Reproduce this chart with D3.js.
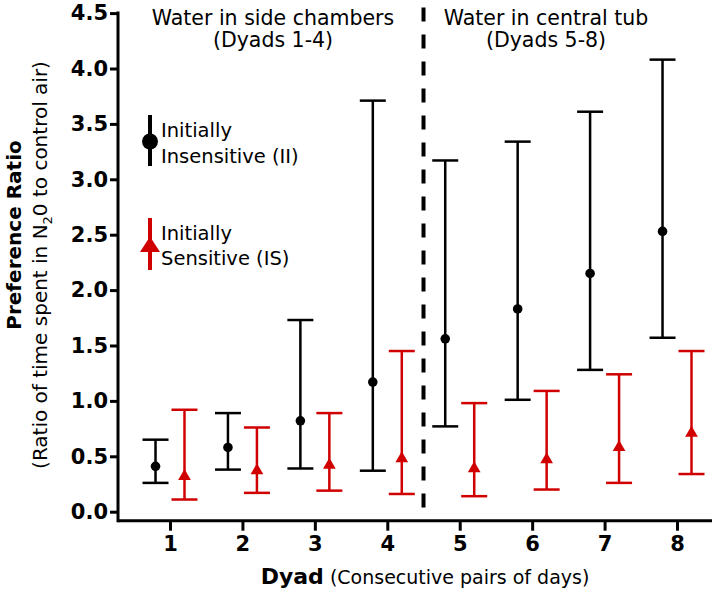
<!DOCTYPE html>
<html>
<head>
<meta charset="utf-8">
<script src="https://cdn.jsdelivr.net/npm/d3@7"></script>
<style>
  body { margin: 0; background: #fff; }
  svg { display: block; font-family: "DejaVu Sans", sans-serif; }
</style>
</head>
<body>
<div id="canvas"></div>
<script>
var w = 714;
var h = 592;

var dyads = [1, 2, 3, 4, 5, 6, 7, 8];
var yTicks = [0, 0.5, 1, 1.5, 2, 2.5, 3, 3.5, 4, 4.5];

// Initially Insensitive (II)
var iiMean = [0.41, 0.58, 0.82, 1.17, 1.56, 1.83, 2.15, 2.53];
var iiLow  = [0.26, 0.38, 0.39, 0.37, 0.77, 1.01, 1.28, 1.57];
var iiHigh = [0.65, 0.89, 1.73, 3.71, 3.17, 3.34, 3.61, 4.08];

// Initially Sensitive (IS)
var isMean = [0.32, 0.37, 0.42, 0.48, 0.39, 0.47, 0.58, 0.71];
var isLow  = [0.11, 0.17, 0.19, 0.16, 0.14, 0.20, 0.26, 0.34];
var isHigh = [0.92, 0.76, 0.89, 1.45, 0.98, 1.09, 1.24, 1.45];

var red = "#d00000";

var canvas = d3.select("#canvas")
    .append("svg")
    .attr("width", w)
    .attr("height", h);

var xScale = d3.scaleLinear()
    .domain([0.282, 8.483])
    .range([118, 712]);

var yScale = d3.scaleLinear()
    .domain([0, 4.5])
    .range([511.7, 13.1]);

var axisY = yScale(0) + 9;

// axes
var yAxis = d3.axisLeft(yScale)
    .tickValues(yTicks)
    .tickFormat(d3.format(".1f"))
    .tickSize(8)
    .tickPadding(2)
    .tickSizeOuter(0);

var gy = canvas.append("g")
    .attr("transform", "translate(118, 0)")
    .call(yAxis);
gy.select(".domain").remove();
gy.selectAll("line").attr("stroke", "#000").attr("stroke-width", 3);
gy.selectAll("text")
    .attr("fill", "#000")
    .style("font-size", "21px")
    .style("font-weight", "bold")
    .style("font-family", "DejaVu Sans");

var xAxis = d3.axisBottom(xScale)
    .tickValues(dyads)
    .tickFormat(d3.format("d"))
    .tickSize(10)
    .tickPadding(5)
    .tickSizeOuter(0);

var gx = canvas.append("g")
    .attr("transform", "translate(0, " + axisY + ")")
    .call(xAxis);
gx.select(".domain").remove();
gx.selectAll("line").attr("stroke", "#000").attr("stroke-width", 3);
gx.selectAll("text")
    .attr("fill", "#000")
    .style("font-size", "21px")
    .style("font-weight", "bold")
    .style("font-family", "DejaVu Sans");

canvas.append("line")
    .attr("x1", 118).attr("x2", 118)
    .attr("y1", yScale(4.5) - 1.5).attr("y2", axisY + 1.5)
    .attr("stroke", "#000").attr("stroke-width", 3);

canvas.append("line")
    .attr("x1", 118).attr("x2", 712)
    .attr("y1", axisY).attr("y2", axisY)
    .attr("stroke", "#000").attr("stroke-width", 3);

// divider between the two set-ups
canvas.append("line")
    .attr("x1", xScale(4.5)).attr("x2", xScale(4.5))
    .attr("y1", yScale(4.55)).attr("y2", yScale(0))
    .attr("stroke", "#000")
    .attr("stroke-width", 4)
    .attr("stroke-dasharray", "14,13");

// error bars
function drawSeries(mean, low, high, offset, color) {
    var data = dyads.map(function(d, i) {
        return { x: d + offset, m: mean[i], lo: low[i], hi: high[i] };
    });
    var g = canvas.append("g");
    var bars = g.selectAll("g")
        .data(data)
        .join("g");
    bars.append("line")
        .attr("x1", d => xScale(d.x)).attr("x2", d => xScale(d.x))
        .attr("y1", d => yScale(d.lo)).attr("y2", d => yScale(d.hi))
        .attr("stroke", color).attr("stroke-width", 2.5);
    bars.append("line")
        .attr("x1", d => xScale(d.x) - 13).attr("x2", d => xScale(d.x) + 13)
        .attr("y1", d => yScale(d.hi)).attr("y2", d => yScale(d.hi))
        .attr("stroke", color).attr("stroke-width", 2.5);
    bars.append("line")
        .attr("x1", d => xScale(d.x) - 13).attr("x2", d => xScale(d.x) + 13)
        .attr("y1", d => yScale(d.lo)).attr("y2", d => yScale(d.lo))
        .attr("stroke", color).attr("stroke-width", 2.5);
    return bars;
}

var iiBars = drawSeries(iiMean, iiLow, iiHigh, -0.2, "#000");
iiBars.append("circle")
    .attr("cx", d => xScale(d.x))
    .attr("cy", d => yScale(d.m))
    .attr("r", 4.8)
    .attr("fill", "#000");

var isBars = drawSeries(isMean, isLow, isHigh, 0.2, red);
isBars.append("path")
    .attr("d", d3.symbol().type(d3.symbolTriangle).size(70))
    .attr("transform", d => "translate(" + xScale(d.x) + "," + yScale(d.m) + ")")
    .attr("fill", red);

// legend
var legend = canvas.append("g");
legend.append("line")
    .attr("x1", 150).attr("x2", 150).attr("y1", 115).attr("y2", 166)
    .attr("stroke", "#000").attr("stroke-width", 4);
legend.append("circle")
    .attr("cx", 150).attr("cy", 141.5).attr("r", 8)
    .attr("fill", "#000");
legend.append("line")
    .attr("x1", 150).attr("x2", 150).attr("y1", 218).attr("y2", 270)
    .attr("stroke", red).attr("stroke-width", 4);
legend.append("path")
    .attr("d", "M150,236.5L160,252L140,252Z")
    .attr("fill", red);

var legendText = [
    { t: "Initially", y: 137 },
    { t: "Insensitive (II)", y: 163 },
    { t: "Initially", y: 239.5 },
    { t: "Sensitive (IS)", y: 265 }
];
legend.selectAll("text")
    .data(legendText)
    .join("text")
    .attr("x", 161)
    .attr("y", d => d.y)
    .attr("fill", "#000")
    .style("font-size", "19.5px")
    .text(d => d.t);

// panel headings
var headings = [
    { t: "Water in side chambers", x: 273, y: 25 },
    { t: "(Dyads 1-4)", x: 273, y: 47 },
    { t: "Water in central tub", x: 546, y: 25 },
    { t: "(Dyads 5-8)", x: 546, y: 47 }
];
canvas.selectAll(".heading")
    .data(headings)
    .join("text")
    .attr("class", "heading")
    .attr("x", d => d.x)
    .attr("y", d => d.y)
    .attr("text-anchor", "middle")
    .attr("fill", "#000")
    .style("font-size", "20.5px")
    .text(d => d.t);

// axis titles
canvas.append("text")
    .attr("transform", "translate(20.5, 235) rotate(-90)")
    .attr("text-anchor", "middle")
    .attr("fill", "#000")
    .style("font-size", "20px")
    .style("font-weight", "bold")
    .text("Preference Ratio");

var sub = canvas.append("text")
    .attr("transform", "translate(46.5, 265) rotate(-90)")
    .attr("text-anchor", "middle")
    .attr("fill", "#000")
    .style("font-size", "20px");
sub.append("tspan").text("(Ratio of time spent in N");
sub.append("tspan").attr("dy", 5).style("font-size", "13px").text("2");
sub.append("tspan").attr("dy", -5).text("0 to control air)");

var xt = canvas.append("text")
    .attr("x", 425)
    .attr("y", 584)
    .attr("text-anchor", "middle")
    .attr("fill", "#000");
xt.append("tspan").style("font-size", "22px").style("font-weight", "bold").text("Dyad");
xt.append("tspan").style("font-size", "19px").text(" (Consecutive pairs of days)");
</script>
</body>
</html>
